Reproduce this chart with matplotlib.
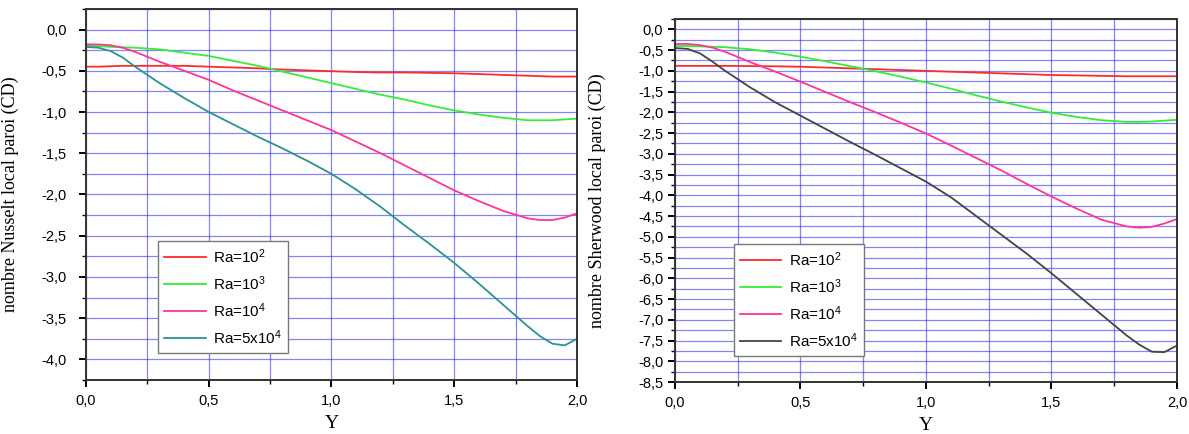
import matplotlib
matplotlib.use("Agg")
import matplotlib.pyplot as plt
from matplotlib.ticker import MultipleLocator, FuncFormatter

# positions along the wall
y_pos = [0.0, 0.05, 0.1, 0.15, 0.2, 0.3, 0.4, 0.5, 0.6, 0.7, 0.8, 0.9, 1.0,
         1.1, 1.2, 1.3, 1.4, 1.5, 1.6, 1.7, 1.8, 1.85, 1.9, 1.95, 2.0]

labels = ["Ra=10$^2$", "Ra=10$^3$", "Ra=10$^4$", "Ra=5x10$^4$"]

# local Nusselt number
nu_ra1e2 = [-0.45, -0.45, -0.445, -0.44, -0.44, -0.44, -0.44, -0.45, -0.46, -0.47, -0.485, -0.495, -0.505,
            -0.515, -0.52, -0.52, -0.525, -0.53, -0.54, -0.55, -0.56, -0.565, -0.57, -0.57, -0.57]
nu_ra1e3 = [-0.2, -0.2, -0.21, -0.215, -0.22, -0.24, -0.28, -0.32, -0.38, -0.44, -0.51, -0.58, -0.65,
            -0.72, -0.79, -0.85, -0.92, -0.98, -1.03, -1.07, -1.1, -1.1, -1.1, -1.09, -1.08]
nu_ra1e4 = [-0.18, -0.18, -0.19, -0.22, -0.27, -0.39, -0.5, -0.61, -0.74, -0.86, -0.98, -1.1, -1.22,
            -1.36, -1.5, -1.65, -1.8, -1.95, -2.08, -2.2, -2.29, -2.31, -2.31, -2.28, -2.23]
nu_ra5e4 = [-0.21, -0.22, -0.26, -0.34, -0.45, -0.65, -0.83, -1.0, -1.15, -1.3, -1.44, -1.59, -1.75,
            -1.94, -2.15, -2.38, -2.6, -2.83, -3.08, -3.34, -3.6, -3.72, -3.81, -3.83, -3.75]

# local Sherwood number
sh_ra1e2 = [-0.88, -0.88, -0.88, -0.88, -0.88, -0.885, -0.89, -0.9, -0.92, -0.94, -0.96, -0.98, -1.0,
            -1.02, -1.04, -1.06, -1.08, -1.1, -1.11, -1.12, -1.13, -1.13, -1.13, -1.13, -1.13]
sh_ra1e3 = [-0.4, -0.4, -0.41, -0.42, -0.43, -0.48, -0.56, -0.66, -0.77, -0.89, -1.01, -1.14, -1.28,
            -1.43, -1.59, -1.74, -1.88, -2.01, -2.11, -2.19, -2.23, -2.23, -2.22, -2.2, -2.18]
sh_ra1e4 = [-0.35, -0.35, -0.38, -0.44, -0.54, -0.79, -1.02, -1.26, -1.51, -1.76, -2.0, -2.25, -2.51,
            -2.8, -3.1, -3.4, -3.72, -4.03, -4.32, -4.59, -4.75, -4.78, -4.76, -4.68, -4.57]
sh_ra5e4 = [-0.45, -0.47, -0.58, -0.78, -1.0, -1.4, -1.76, -2.08, -2.4, -2.72, -3.03, -3.35, -3.67,
            -4.05, -4.5, -4.95, -5.4, -5.88, -6.38, -6.88, -7.38, -7.6, -7.77, -7.78, -7.62]

plt.rcParams['font.family'] = ['Liberation Sans', 'DejaVu Sans']
plt.rcParams['mathtext.default'] = 'regular'

comma = FuncFormatter(lambda v, p: ('%.1f' % v).replace('.', ','))


def setup(ax, ylim, ylabel, legend_xy, series, colors, ypad, label_x):
    for vals, c, lab in zip(series, colors, labels):
        ax.plot(y_pos, vals, color=c, lw=1.3, label=lab)
    ax.set_xlim(0, 2.0)
    ax.set_ylim(*ylim)
    ax.xaxis.set_major_locator(MultipleLocator(0.5))
    ax.xaxis.set_minor_locator(MultipleLocator(0.25))
    ax.yaxis.set_major_locator(MultipleLocator(0.5))
    ax.yaxis.set_minor_locator(MultipleLocator(0.25))
    ax.xaxis.set_major_formatter(comma)
    ax.yaxis.set_major_formatter(comma)
    ax.grid(which='both', color='#3333ee', alpha=0.6, lw=0.9)
    ax.set_axisbelow(True)
    ax.tick_params(which='major', direction='out', length=5, width=1.4, labelsize=10.5)
    ax.tick_params(which='minor', direction='out', length=3, width=1.0)
    ax.tick_params(axis='y', which='major', pad=ypad)
    ax.tick_params(axis='x', which='major', pad=5)
    for s in ax.spines.values():
        s.set_linewidth(1.4)
        s.set_color('#333333')
    ax.set_xlabel('Y', family='Liberation Serif', fontsize=14, labelpad=5)
    ax.set_ylabel(ylabel, family='Liberation Serif', fontsize=13)
    ax.yaxis.set_label_coords(label_x, 0.5)
    leg = ax.legend(loc='upper left', bbox_to_anchor=legend_xy, fontsize=11,
                    fancybox=False, framealpha=1, edgecolor='#777777',
                    handlelength=2.7, labelspacing=0.55, borderpad=0.4,
                    handletextpad=0.5, borderaxespad=0)
    leg.get_frame().set_linewidth(1.0)


fig = plt.figure(figsize=(11.89, 4.34), dpi=100)
ax1 = fig.add_axes([0.0723, 0.1244, 0.413, 0.855])
ax2 = fig.add_axes([0.5677, 0.1198, 0.4222, 0.8364])

setup(ax1, (-4.25, 0.25), 'nombre Nusselt local paroi (CD)', (0.147, 0.375),
      [nu_ra1e2, nu_ra1e3, nu_ra1e4, nu_ra5e4],
      ['#ff2a2a', '#33ee33', '#ff3399', '#2a9393'], 9, -0.137)
setup(ax2, (-8.5, 0.25), 'nombre Sherwood local paroi (CD)', (0.1175, 0.38),
      [sh_ra1e2, sh_ra1e3, sh_ra1e4, sh_ra5e4],
      ['#ff2a2a', '#33ee33', '#ff3399', '#444444'], 3.5, -0.137)

fig.savefig('out.png', dpi=100)
